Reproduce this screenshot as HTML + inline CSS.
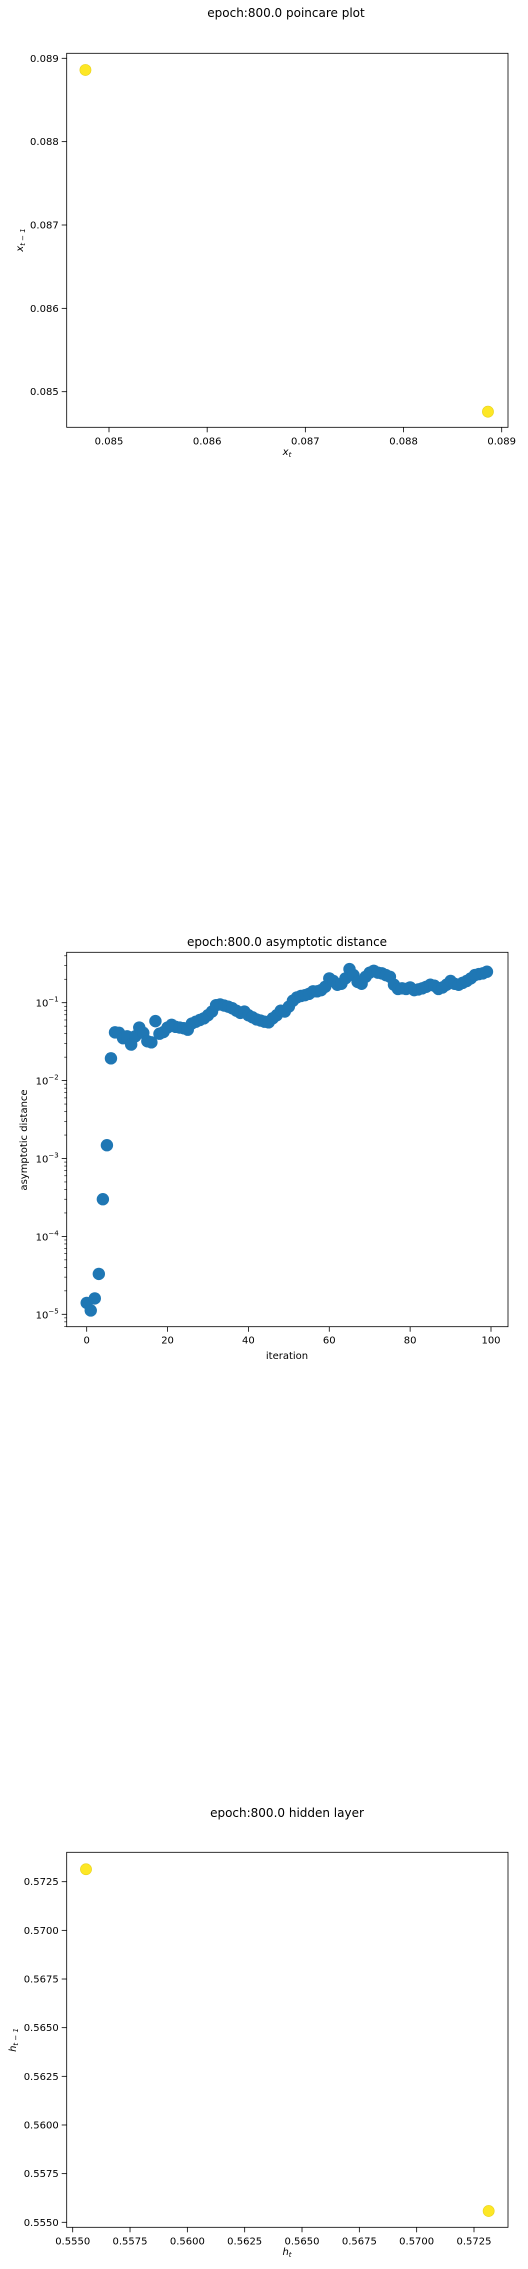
<!DOCTYPE html>
<html><head><meta charset="utf-8"><style>
html,body{margin:0;padding:0;background:#fff;}
svg{display:block;font-family:"DejaVu Sans","Liberation Sans",sans-serif;}
</style></head><body>
<svg id="fig" width="528" height="2269" viewBox="0 0 528 2269" xmlns="http://www.w3.org/2000/svg"></svg>
<script>
// Chart 1: poincare plot
const poincareX = [0.08476, 0.08886];
const poincareY = [0.08886, 0.08476];
const poincareXTicks = [0.085, 0.086, 0.087, 0.088, 0.089];
const poincareYTicks = [0.085, 0.086, 0.087, 0.088, 0.089];
// Chart 2: asymptotic distance
const distValues = [1.4e-5,1.12e-5,1.6e-5,3.3e-5,3.0e-4,1.48e-3,0.0193,0.0416,0.041,0.035,
0.037,0.029,0.037,0.048,0.041,0.032,0.031,0.058,0.040,0.042,
0.048,0.052,0.049,0.048,0.047,0.045,0.054,0.057,0.060,0.063,
0.069,0.077,0.093,0.095,0.092,0.089,0.085,0.079,0.074,0.077,
0.069,0.065,0.061,0.059,0.057,0.056,0.063,0.069,0.079,0.077,
0.089,0.106,0.117,0.122,0.125,0.130,0.140,0.140,0.145,0.160,
0.205,0.190,0.170,0.175,0.205,0.270,0.226,0.185,0.175,0.215,
0.243,0.257,0.243,0.238,0.226,0.215,0.170,0.150,0.153,0.150,
0.157,0.145,0.148,0.153,0.160,0.170,0.165,0.150,0.157,0.170,
0.190,0.175,0.170,0.180,0.190,0.205,0.226,0.233,0.238,0.250];
const distXTicks = [0, 20, 40, 60, 80, 100];
const distYExps = [-5, -4, -3, -2, -1];
// Chart 3: hidden layer
const hiddenX = [0.55558, 0.57314];
const hiddenY = [0.57314, 0.55558];
const hiddenXTicks = [0.5550,0.5575,0.5600,0.5625,0.5650,0.5675,0.5700,0.5725];
const hiddenYTicks = [0.5550,0.5575,0.5600,0.5625,0.5650,0.5675,0.5700,0.5725];

const NS = "http://www.w3.org/2000/svg";
const svg = document.getElementById('fig');
function mk(tag, attrs, parent, text) {
  const e = document.createElementNS(NS, tag);
  for (const k in attrs) e.setAttribute(k, attrs[k]);
  if (text !== undefined) e.textContent = text;
  (parent || svg).appendChild(e);
  return e;
}
function lin(d0, d1, r0, r1) { return v => r0 + (v - d0) / (d1 - d0) * (r1 - r0); }

function frame(g, L, T, R, B) {
  const f = mk('rect', {x:L, y:T, width:R-L, height:B-T, fill:'none', stroke:'#000', 'stroke-width':0.8}, g);
  
  
}
function xTicks(g, ticks, sx, B, fmt) {
  ticks.forEach(t => {
    const x = sx(t);
    const l = mk('line', {x1:x, x2:x, y1:B, y2:B+5, stroke:'#000', 'stroke-width':0.8}, g);
    
    
    const tx = mk('text', {x:x, y:B+17, 'font-size':10, 'text-anchor':'middle', fill:'#000'}, g, fmt(t));
    
    
  });
}
function yTicks(g, ticks, sy, L, fmt) {
  ticks.forEach(t => {
    const y = sy(t);
    const l = mk('line', {x1:L-5, x2:L, y1:y, y2:y, stroke:'#000', 'stroke-width':0.8}, g);
    
    
    const tx = mk('text', {x:L-8, y:y+3.5, 'font-size':10, 'text-anchor':'end', fill:'#000'}, g, fmt(t));
    
    
  });
}
function title(g, x, y, s) {
  const t = mk('text', {x:x, y:y, 'font-size':12, 'text-anchor':'middle', fill:'#000'}, g, s);
  
  
}
function xlabel(g, x, y, main, sub) {
  const t = mk('text', {x:x, y:y, 'font-size':10, 'text-anchor':'middle', fill:'#000', 'font-style':'italic'}, g);
  
  
  mk('tspan', {}, t, main);
  mk('tspan', {'font-size':7, dy:2}, t, sub);
}
function ylabel(g, x, y, main, sub) {
  const t = mk('text', {x:0, y:0, 'font-size':10, 'text-anchor':'middle', fill:'#000', 'font-style':'italic', transform:`translate(${x},${y}) rotate(-90)`}, g);
  
  
  mk('tspan', {}, t, main);
  mk('tspan', {'font-size':7, dy:2}, t, sub);
}

// ---- Chart 1
(function(){
  const g = mk('g', {});
  
  
  const L=66.7, R=508, T=53.3, B=427.3;
  const sx = lin(0.085, 0.089, 109, 501.7);
  const sy = lin(0.085, 0.089, 391.7, 58.3);
  title(g, 286, 17, 'epoch:800.0 poincare plot');
  poincareX.forEach((v,i) => {
    const c = mk('circle', {cx:sx(v), cy:sy(poincareY[i]), r:5.6, fill:'#fde725', stroke:'#e8d21e', 'stroke-width':0.6}, g);
    
    
  });
  frame(g, L, T, R, B);
  xTicks(g, poincareXTicks, sx, B, t => t.toFixed(3));
  yTicks(g, poincareYTicks, sy, L, t => t.toFixed(3));
  xlabel(g, 287, 455, 'x', 't');
  ylabel(g, 23, 240, 'x', 't − 1');
})();

// ---- Chart 2
(function(){
  const g = mk('g', {});
  
  
  const L=66.7, R=508, T=952.3, B=1326.7;
  const sx = lin(0, 100, 86.7, 491);
  const sy = v => lin(-1, -5, 1002.7, 1314.3)(Math.log10(v));
  title(g, 287, 946, 'epoch:800.0 asymptotic distance');
  distValues.forEach((v,i) => {
    const c = mk('circle', {cx:sx(i), cy:sy(v), r:6.2, fill:'#1f77b4'}, g);
    
    
  });
  frame(g, L, T, R, B);
  xTicks(g, distXTicks, sx, B, t => String(t));
  for (let e = -6; e <= 0; e++) {
    for (let m = 2; m <= 9; m++) {
      const v = m * Math.pow(10, e);
      const y = sy(v);
      if (y < T || y > B) continue;
      const l = mk('line', {x1:L-2.5, x2:L, y1:y, y2:y, stroke:'#000', 'stroke-width':0.6}, g);
      
      
    }
  }
  distYExps.forEach(e => {
    const y = sy(Math.pow(10, e));
    const l = mk('line', {x1:L-5, x2:L, y1:y, y2:y, stroke:'#000', 'stroke-width':0.8}, g);
    
    
    const t = mk('text', {x:L-8, y:y+4, 'font-size':10, 'text-anchor':'end', fill:'#000'}, g);
    
    
    mk('tspan', {}, t, '10');
    mk('tspan', {'font-size':7, dy:-5}, t, '−' + Math.abs(e));
  });
  const xl = mk('text', {x:287, y:1359, 'font-size':10, 'text-anchor':'middle', fill:'#000'}, g, 'iteration');
  
  
  const yl = mk('text', {x:0, y:0, 'font-size':10, 'text-anchor':'middle', fill:'#000', transform:'translate(27,1140) rotate(-90)'}, g, 'asymptotic distance');
  
  
})();

// ---- Chart 3
(function(){
  const g = mk('g', {});
  
  
  const L=66.7, R=508, T=1852.3, B=2227.3;
  const sx = lin(0.5550, 0.5725, 72.7, 474);
  const sy = lin(0.5550, 0.5725, 2222.3, 1881.7);
  title(g, 287, 1817, 'epoch:800.0 hidden layer');
  hiddenX.forEach((v,i) => {
    const c = mk('circle', {cx:sx(v), cy:sy(hiddenY[i]), r:5.6, fill:'#fde725', stroke:'#e8d21e', 'stroke-width':0.6}, g);
    
    
  });
  frame(g, L, T, R, B);
  xTicks(g, hiddenXTicks, sx, B, t => t.toFixed(4));
  yTicks(g, hiddenYTicks, sy, L, t => t.toFixed(4));
  xlabel(g, 287, 2255, 'h', 't');
  ylabel(g, 16, 2040, 'h', 't − 1');
})();
</script>
</body></html>
